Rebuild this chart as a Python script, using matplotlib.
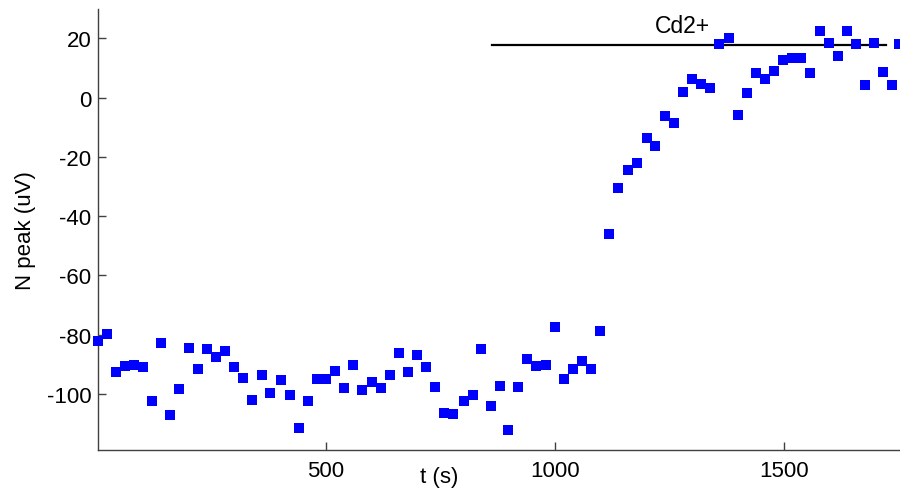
#!/usr/bin/env python3
# -*- coding: utf-8 -*-

"""
N peak amplitude vs time, with Cd2+ application bar
"""

import numpy as np
import matplotlib as mpl
mpl.use("Agg")
import matplotlib.pyplot as plt

# time (s)
t = [3, 23, 42, 62, 82, 101, 121, 140, 160, 180,
     202, 222, 241, 261, 281, 300, 320, 340, 360, 379,
     402, 421, 442, 461, 481, 500, 520, 540, 559, 579,
     601, 621, 641, 660, 680, 700, 719, 739, 759, 779,
     801, 821, 839, 860, 880, 899, 919, 939, 959, 981,
     1001, 1021, 1040, 1060, 1080, 1099, 1119, 1139, 1159, 1180,
     1201, 1220, 1240, 1260, 1280, 1300, 1319, 1339, 1358, 1380,
     1400, 1420, 1440, 1459, 1479, 1498, 1518, 1538, 1557, 1580,
     1600, 1619, 1639, 1658, 1678, 1698, 1717, 1737, 1752]

# N peak (uV)
npeak = [-82.2, -79.8, -92.5, -90.6, -90.1, -91.0, -102.5, -82.9, -107.1, -98.2,
         -84.4, -91.7, -84.9, -87.5, -85.6, -90.9, -94.7, -102.0, -93.7, -99.5,
         -95.2, -100.2, -111.3, -102.2, -94.9, -94.9, -92.2, -98.0, -90.3, -98.7,
         -96.0, -98.0, -93.7, -86.3, -92.5, -86.8, -91.0, -97.5, -106.3, -106.8,
         -102.2, -100.2, -84.9, -104.1, -97.2, -112.0, -97.5, -88.3, -90.7, -90.2,
         -77.5, -94.9, -91.4, -89.0, -91.4, -78.7, -46.1, -30.5, -24.3, -21.9,
         -13.5, -16.2, -6.2, -8.5, 1.9, 6.4, 4.5, 3.4, 18.0, 20.3,
         -5.8, 1.5, 8.4, 6.4, 9.1, 12.6, 13.4, 13.4, 8.4, 22.6,
         18.4, 14.2, 22.6, 18.0, 4.2, 18.4, 8.8, 4.2, 18.2]

# Cd2+ application
cd_start, cd_end, cd_level = 864, 1724, 17.8
cd_label = "Cd2+"

yticks = [-100, -80, -60, -40, -20, 0, 20]
xticks = [500, 1000, 1500]

if __name__ == "__main__":
    plt.rcParams['font.family'] = ['Liberation Sans', 'DejaVu Sans']
    plt.rcParams['font.size'] = 16
    plt.rcParams['axes.unicode_minus'] = False

    fig = plt.figure(figsize=(9, 4.89), dpi=100)
    ax1 = fig.add_axes([0.109, 0.077, 0.89, 0.903])

    ax1.plot(t, npeak, marker='s', ls='none', ms=7.4, mew=0,
             color='#0000ff', clip_on=False, zorder=3)
    ax1.plot([cd_start, cd_end], [cd_level, cd_level], color='black', lw=1.6)
    ax1.text(1278, 24.3, cd_label, ha='center', va='center', fontsize=16.5)

    ax1.set_xlim(3, 1752)
    ax1.set_ylim(-119, 30)
    ax1.set_xticks(xticks)
    ax1.set_yticks(yticks)

    ax1.set_xlabel('t (s)')
    ax1.set_ylabel('N peak (uV)')
    ax1.xaxis.set_label_coords(0.426, -0.036)
    ax1.yaxis.set_label_coords(-0.077, 0.5)

    ax1.spines['top'].set_visible(False)
    ax1.spines['right'].set_visible(False)
    for s in ['left', 'bottom']:
        ax1.spines[s].set_color('#404040')
        ax1.spines[s].set_linewidth(1.0)
    ax1.tick_params(direction='in', length=6, width=1.0, color='#404040',
                    labelcolor='black')
    ax1.tick_params(axis='y', pad=5)
    ax1.tick_params(axis='x', pad=7)

    plt.savefig('out.png', dpi=100)
